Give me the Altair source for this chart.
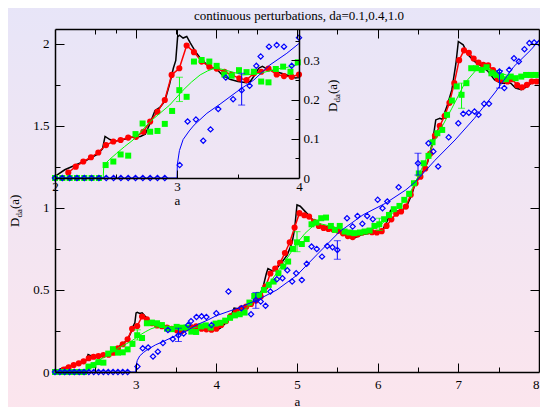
import altair as alt
import pandas as pd

SERIF = "Liberation Serif"
TITLE = "continuous perturbations, da=0.1,0.4,1.0"
X_TITLE = "a"
GREEN = "#00ff00"
BLUE = "#0000ff"

# ---------------- data ----------------
BLACK_A = [2.00, 2.08, 2.16, 2.25, 2.35, 2.39, 2.41, 2.45, 2.49, 2.56, 2.63, 2.70, 2.74, 2.78, 2.82,
           2.86, 2.90, 2.94, 2.97, 2.99, 3.005, 3.02, 3.05, 3.08, 3.11, 3.15, 3.20, 3.26, 3.33, 3.38,
           3.44, 3.50, 3.57, 3.60, 3.64, 3.67, 3.70, 3.75, 3.80, 3.89, 3.97, 4.00, 4.05, 4.12, 4.18,
           4.22, 4.27, 4.33, 4.40, 4.47, 4.53, 4.58, 4.62, 4.64, 4.70, 4.75, 4.82, 4.88, 4.94, 4.97,
           5.00, 5.04, 5.12, 5.20, 5.29, 5.36, 5.43, 5.50, 5.57, 5.63, 5.69, 5.75, 5.80, 5.90, 5.98,
           6.06, 6.12, 6.16, 6.22, 6.30, 6.36, 6.43, 6.47, 6.55, 6.62, 6.68, 6.72, 6.77, 6.80, 6.86,
           6.92, 6.97, 7.00, 7.06, 7.12, 7.20, 7.29, 7.37, 7.45, 7.53, 7.65, 7.71, 7.78, 7.86, 7.94, 8.00]
BLACK_D = [0.004, 0.021, 0.032, 0.044, 0.061, 0.075, 0.106, 0.098, 0.094, 0.098, 0.104, 0.106, 0.112, 0.140, 0.172,
           0.180, 0.196, 0.240, 0.280, 0.300, 0.360, 0.364, 0.357, 0.361, 0.344, 0.323, 0.302, 0.285, 0.276, 0.260,
           0.251, 0.246, 0.243, 0.246, 0.264, 0.280, 0.285, 0.276, 0.272, 0.264, 0.255, 0.256, 0.268, 0.300, 0.340,
           0.390, 0.385, 0.388, 0.405, 0.425, 0.460, 0.520, 0.600, 0.630, 0.615, 0.632, 0.673, 0.714, 0.790, 0.870,
           1.018, 1.010, 0.968, 0.925, 0.886, 0.886, 0.886, 0.865, 0.846, 0.825, 0.812, 0.825, 0.836, 0.845, 0.846,
           0.866, 0.920, 0.985, 0.978, 0.985, 1.010, 1.090, 1.160, 1.210, 1.280, 1.400, 1.536, 1.546, 1.540, 1.620,
           1.720, 1.880, 2.014, 1.994, 1.933, 1.892, 1.862, 1.831, 1.780, 1.760, 1.760, 1.730, 1.720, 1.740, 1.780, 1.780]

RED_A = [2.109, 2.170, 2.232, 2.295, 2.355, 2.418, 2.478, 2.538, 2.600, 2.664, 2.724, 2.780, 2.840, 2.900,
         2.956, 3.019, 3.079, 3.139, 3.202, 3.265, 3.325, 3.388, 3.448, 3.511, 3.570, 3.630, 3.690, 3.750,
         3.817, 3.877, 3.940, 4.000, 4.06, 4.12, 4.18, 4.245, 4.31, 4.37, 4.43, 4.49, 4.55, 4.61, 4.67, 4.73,
         4.79, 4.85, 4.91, 4.97, 5.03, 5.09, 5.15, 5.21, 5.27, 5.33, 5.39, 5.45, 5.51, 5.57, 5.63, 5.69, 5.75,
         5.81, 5.87, 5.93, 5.99, 6.05, 6.11, 6.17, 6.23, 6.29, 6.35, 6.41, 6.47, 6.53, 6.59, 6.65, 6.71, 6.77,
         6.83, 6.89, 6.95, 7.01, 7.07, 7.13, 7.19, 7.25, 7.31, 7.37, 7.43, 7.49, 7.55, 7.61, 7.67, 7.73, 7.79,
         7.85, 7.91, 7.97]
RED_D = [0.014, 0.029, 0.042, 0.053, 0.065, 0.084, 0.093, 0.097, 0.103, 0.105, 0.118, 0.144, 0.169, 0.199,
         0.263, 0.280, 0.338, 0.321, 0.297, 0.284, 0.279, 0.271, 0.263, 0.254, 0.250, 0.267, 0.271, 0.279,
         0.264, 0.260, 0.258, 0.264, 0.287, 0.310, 0.340, 0.368, 0.388, 0.398, 0.415, 0.435, 0.460, 0.520, 0.600, 0.630,
         0.665, 0.725, 0.790, 0.880, 0.968, 0.955, 0.947, 0.915, 0.890, 0.878, 0.872, 0.868, 0.860, 0.845, 0.828, 0.822, 0.838,
         0.850, 0.856, 0.852, 0.850, 0.858, 0.890, 0.930, 0.965, 0.978, 1.008, 1.080, 1.150, 1.190, 1.240, 1.330, 1.440, 1.500,
         1.560, 1.640, 1.760, 1.900, 1.960, 1.945, 1.910, 1.885, 1.872, 1.868, 1.840, 1.785, 1.778, 1.770, 1.784, 1.748, 1.735,
         1.750, 1.770, 1.770]

GREEN_A = [2.00, 2.06, 2.12, 2.18, 2.24, 2.30, 2.36, 2.415, 2.478, 2.538, 2.600, 2.660, 2.718, 2.780, 2.840,
           2.900, 2.960, 3.019, 3.079, 3.139, 3.202, 3.265, 3.325, 3.388, 3.448, 3.508, 3.570, 3.630, 3.690,
           3.750, 3.810, 3.870, 3.930, 3.990, 4.05, 4.11, 4.17, 4.23, 4.29, 4.35, 4.41, 4.47, 4.53, 4.59, 4.65,
           4.71, 4.77, 4.83, 4.89, 4.95, 5.00, 5.06, 5.12, 5.18, 5.24, 5.30, 5.36, 5.42, 5.47, 5.53, 5.59, 5.65,
           5.71, 5.78, 5.84, 5.90, 5.96, 6.02, 6.08, 6.14, 6.20, 6.27, 6.33, 6.39, 6.45, 6.51, 6.57, 6.63, 6.68,
           6.74, 6.80, 6.86, 6.92, 6.98, 7.04, 7.10, 7.16, 7.22, 7.29, 7.35, 7.41, 7.47, 7.53, 7.59, 7.65, 7.71,
           7.78, 7.84, 7.90, 7.96]
GREEN_D = [0.0, 0.0, 0.0, 0.0, 0.0, 0.0, 0.0, 0.033, 0.042, 0.060, 0.057, 0.112, 0.139, 0.118, 0.120,
           0.138, 0.171, 0.224, 0.207, 0.297, 0.301, 0.297, 0.286, 0.264, 0.261, 0.275, 0.270, 0.271, 0.246,
           0.244, 0.278, 0.284, 0.271, 0.295, 0.300, 0.313, 0.330, 0.345, 0.352, 0.362, 0.423, 0.463, 0.470, 0.500, 0.531,
           0.551, 0.602, 0.642, 0.673, 0.750, 0.790, 0.780, 0.810, 0.900, 0.911, 0.937, 0.941, 0.890, 0.866, 0.890, 0.856, 0.850,
           0.846, 0.850, 0.856, 0.862, 0.890, 0.900, 0.931, 0.957, 0.992, 1.012, 1.049, 1.086, 1.150, 1.210, 1.272, 1.317, 1.400,
           1.455, 1.475, 1.567, 1.654, 1.740, 1.689, 1.760, 1.851, 1.851, 1.841, 1.857, 1.820, 1.810, 1.800, 1.784, 1.800, 1.790,
           1.800, 1.810, 1.810, 1.810]

GREEN_LINE_A = [2.00, 2.395, 2.40, 2.45, 2.505, 2.57, 2.64, 2.71, 2.78, 2.86, 2.94, 3.05, 3.12, 3.19, 3.25,
                3.30, 3.36, 3.41, 3.54, 3.60, 3.68, 3.82, 3.90, 4.00, 4.10, 4.20, 4.30, 4.40, 4.50, 4.60,
                4.70, 4.80, 4.90, 5.00, 5.10, 5.20, 5.27, 5.41, 5.57, 5.73, 5.90, 6.02, 6.14, 6.31, 6.41,
                6.50, 6.71, 6.92, 7.08, 7.24, 7.41, 7.65, 8.00]
GREEN_LINE_D = [0.0, 0.0, 0.033, 0.048, 0.063, 0.080, 0.097, 0.120, 0.144, 0.165, 0.186, 0.224, 0.245, 0.263, 0.273,
                0.279, 0.278, 0.274, 0.263, 0.264, 0.267, 0.278, 0.282, 0.290, 0.305, 0.330, 0.360, 0.400, 0.450, 0.510,
                0.570, 0.640, 0.710, 0.785, 0.845, 0.890, 0.905, 0.890, 0.866, 0.856, 0.866, 0.886, 0.947, 1.030, 1.100,
                1.190, 1.414, 1.607, 1.760, 1.851, 1.841, 1.800, 1.810]

BLUE_A = [2.00, 2.06, 2.12, 2.18, 2.24, 2.30, 2.36, 2.42, 2.48, 2.54, 2.60, 2.66, 2.72, 2.78, 2.84, 2.90,
          3.022, 3.087, 3.155, 3.215, 3.275, 3.338, 3.400, 3.460, 3.530, 3.595, 3.650, 3.686, 3.754, 3.817,
          3.877, 3.940, 4.000, 4.15, 4.31, 4.43, 4.49, 4.55, 4.61, 4.67, 4.75, 4.82, 4.88, 4.94, 4.99, 5.06,
          5.12, 5.18, 5.245, 5.31, 5.375, 5.44, 5.50, 5.62, 5.69, 5.75, 5.81, 5.87, 5.94, 6.00, 6.06, 6.12,
          6.26, 6.50, 6.63, 6.69, 6.75, 6.88, 7.00, 7.06, 7.13, 7.20, 7.25, 7.32, 7.38, 7.51, 7.57, 7.63,
          7.69, 7.75, 7.82, 7.88, 7.94, 8.00]
BLUE_D = [0.0] * 16 + [
          0.033, 0.144, 0.149, 0.095, 0.124, 0.176, 0.256, 0.201, 0.224, 0.235, 0.286, 0.310, 0.335, 0.339,
          0.335, 0.286, 0.358, 0.490, 0.388, 0.352, 0.439, 0.429, 0.403, 0.490, 0.565, 0.571, 0.620, 0.551, 0.602, 0.561,
          0.659, 0.764, 0.750, 0.703, 0.768, 0.760, 0.744, 0.937, 0.886, 0.951, 0.903, 0.951, 0.931, 1.049, 0.998, 1.039,
          1.126, 1.272, 1.394, 1.343, 1.252, 1.430, 1.516, 1.573, 1.580, 1.587, 1.567, 1.634, 1.634, 1.831, 1.730, 1.841,
          1.912, 1.892, 1.967, 2.004, 2.008, 2.004]

BLUE_LINE_A = [2.00, 3.00, 3.003, 3.02, 3.05, 3.10, 3.14, 3.245, 3.36, 3.49, 3.63, 3.76, 3.90, 4.00, 4.26,
               4.51, 4.75, 5.00, 5.245, 5.53, 5.82, 6.10, 6.35, 6.47, 6.71, 6.96, 7.20, 7.45, 7.69, 7.90, 8.00]
BLUE_LINE_D = [0.0, 0.0, 0.035, 0.070, 0.098, 0.120, 0.135, 0.165, 0.190, 0.220, 0.250, 0.288, 0.318, 0.343, 0.388,
               0.439, 0.500, 0.590, 0.714, 0.856, 0.958, 1.029, 1.110, 1.160, 1.290, 1.414, 1.546, 1.700, 1.862, 1.963, 2.020]

GERR_A = [3.02, 5.00, 6.02, 7.04]
GERR_LO = [0.195, 0.733, 0.862, 1.607]
GERR_HI = [0.257, 0.855, 0.937, 1.760]
BERR_A = [3.53, 4.49, 5.50, 6.50, 7.51]
BERR_LO = [0.186, 0.388, 0.687, 1.200, 1.730]
BERR_HI = [0.267, 0.484, 0.800, 1.333, 1.837]

X_LABELS = [3, 4, 5, 6, 7, 8]
X_MAJOR = [3, 4, 5, 6, 7]
X_MINOR = [2.5, 3.5, 4.5, 5.5, 6.5, 7.5]
Y_LABELS = [0, 0.5, 1, 1.5, 2]
Y_MAJOR = [0.5, 1, 1.5, 2]
Y_MINOR = [0.25, 0.75, 1.25, 1.75]
IX_LABELS = [2, 3, 4]
IX_MAJOR = [3]
IX_MINOR = [2.5, 3.5]
IY_LABELS = [0, 0.1, 0.2, 0.3]
IY_MAJOR = [0.1, 0.2, 0.3]
IY_MINOR = [0.05, 0.15, 0.25, 0.35]

# ---------------- layout ----------------
W, H = 484, 343
IW, IH = 244, 149


def frame(a, d):
    return pd.DataFrame({"a": a, "D": d, "i": list(range(len(a)))})


black = frame(BLACK_A, BLACK_D)
red = frame(RED_A, RED_D)
gpts = frame(GREEN_A, GREEN_D)
gline = frame(GREEN_LINE_A, GREEN_LINE_D)
bpts = frame(BLUE_A, BLUE_D)
bline = frame(BLUE_LINE_A, BLUE_LINE_D)
gerr = pd.DataFrame({"a": GERR_A, "lo": GERR_LO, "hi": GERR_HI})
berr = pd.DataFrame({"a": BERR_A, "lo": BERR_LO, "hi": BERR_HI})
DUMMY = pd.DataFrame({"a": [2.0], "D": [0.0]})

XS = alt.Scale(domain=[2, 8], nice=False, zero=False)
YS = alt.Scale(domain=[0, 2.09], nice=False, zero=False)
IXS = alt.Scale(domain=[2, 4], range=[0, IW], nice=False, zero=False)
IYS = alt.Scale(domain=[0, 0.38], range=[IH, 0], nice=False, zero=False)


def data_layers(xs, ys, amax=None):
    def X():
        return alt.X("a:Q", scale=xs, axis=None)

    def Y(f="D"):
        return alt.Y(f + ":Q", scale=ys, axis=None)

    def base(df):
        c = alt.Chart(df)
        if amax is not None:
            c = c.transform_filter(alt.datum.a <= amax)
        return c

    return [
        base(black).mark_line(color="black", strokeWidth=1.5).encode(x=X(), y=Y(), order=alt.Order("i:Q")),
        base(red).mark_line(color="red", strokeWidth=1.5).encode(x=X(), y=Y(), order=alt.Order("i:Q")),
        base(red).mark_circle(color="red", size=38, opacity=1).encode(x=X(), y=Y()),
        base(gline).mark_line(color=GREEN, strokeWidth=1).encode(x=X(), y=Y(), order=alt.Order("i:Q")),
        base(gpts).mark_square(color=GREEN, size=36, opacity=1).encode(x=X(), y=Y()),
        base(bline).mark_line(color=BLUE, strokeWidth=1).encode(x=X(), y=Y(), order=alt.Order("i:Q")),
        base(bpts).mark_point(shape="diamond", filled=False, color=BLUE, size=28, strokeWidth=1.2,
                              opacity=1).encode(x=X(), y=Y()),
        base(gerr).mark_errorbar(ticks={"size": 7}, color=GREEN).encode(
            x=X(), y=alt.Y("lo:Q", scale=ys, axis=None), y2=alt.Y2("hi:Q")),
        base(berr).mark_errorbar(ticks={"size": 7}, color=BLUE).encode(
            x=X(), y=alt.Y("lo:Q", scale=ys, axis=None), y2=alt.Y2("hi:Q")),
    ]


def axis_layer(xs, ys, xaxis=None, yaxis=None):
    return alt.Chart(DUMMY).mark_point(opacity=0, size=1).encode(
        x=alt.X("a:Q", scale=xs, axis=xaxis), y=alt.Y("D:Q", scale=ys, axis=yaxis))


def tick_axis(orient, values, size, offset, domain=False):
    return alt.Axis(orient=orient, values=values, offset=offset, labels=False, domain=domain,
                    ticks=True, tickSize=size, tickWidth=1, grid=False, title=None, zindex=1)


def label_axis(orient, values, offset=0, title=None, lpad=6, tpad=12, flush=False):
    return alt.Axis(orient=orient, values=values, offset=offset, labels=True, ticks=False, domain=True,
                    grid=False, title=title, labelPadding=lpad, titlePadding=tpad, labelFlush=flush,
                    labelOverlap=False, format="~g", zindex=1)


def ytitle(x, y):
    common = dict(angle=270, align="left", baseline="middle", font=SERIF, color="black")
    return [
        alt.Chart(DUMMY).mark_text(text="D", fontSize=13, **common).encode(x=alt.value(x), y=alt.value(y)),
        alt.Chart(DUMMY).mark_text(text="da", fontSize=9, dx=9.5, dy=4, **common).encode(
            x=alt.value(x), y=alt.value(y)),
        alt.Chart(DUMMY).mark_text(text="(a)", fontSize=13, dx=18, **common).encode(
            x=alt.value(x), y=alt.value(y)),
    ]


bg = alt.Chart(DUMMY).mark_rect(
    color=alt.LinearGradient(gradient="linear",
                             stops=[alt.GradientStop(offset=0, color="#e7e5f8"),
                                    alt.GradientStop(offset=1, color="#fce5ed")],
                             x1=0, x2=0, y1=0, y2=1)
).encode(x=alt.value(-60), x2=alt.value(W + 10), y=alt.value(-30), y2=alt.value(H + 45))

title_text = alt.Chart(DUMMY).mark_text(
    text=TITLE, font=SERIF, fontSize=13, color="black", align="center", baseline="middle"
).encode(x=alt.value(W / 2 + 2), y=alt.value(-13.5))

main_layers = [bg, title_text] + data_layers(XS, YS) + [
    axis_layer(XS, YS, label_axis("bottom", X_LABELS, title=X_TITLE, lpad=6, tpad=4, flush=True),
               label_axis("left", Y_LABELS, lpad=6)),
    axis_layer(XS, YS, tick_axis("top", X_MAJOR, 9, -H), tick_axis("right", Y_MAJOR, 9, -W)),
    axis_layer(XS, YS, tick_axis("top", X_MINOR, 5, -H), tick_axis("right", Y_MINOR, 5, -W)),
    axis_layer(XS, YS, tick_axis("bottom", X_MAJOR, 9, -H, True), tick_axis("left", Y_MAJOR, 9, -W, True)),
    axis_layer(XS, YS, tick_axis("bottom", X_MINOR, 5, -H), tick_axis("left", Y_MINOR, 5, -W)),
] + ytitle(-40, 198)

inset_layers = data_layers(IXS, IYS, amax=4.0001) + [
    axis_layer(IXS, IYS, label_axis("bottom", IX_LABELS, offset=-(H - IH), title=X_TITLE, lpad=2, tpad=1),
               label_axis("right", IY_LABELS, offset=-(W - IW), lpad=4)),
    axis_layer(IXS, IYS, tick_axis("top", IX_MAJOR, 8, -IH), tick_axis("left", IY_MAJOR, 8, -IW)),
    axis_layer(IXS, IYS, tick_axis("top", IX_MINOR, 4, -IH), tick_axis("left", IY_MINOR, 4, -IW)),
    axis_layer(IXS, IYS, tick_axis("bottom", IX_MAJOR, 8, -H)),
    axis_layer(IXS, IYS, tick_axis("bottom", IX_MINOR, 4, -H)),
] + ytitle(278, 83)

main = alt.layer(*main_layers).resolve_axis(x="independent", y="independent")
inset = alt.layer(*inset_layers).resolve_axis(x="independent", y="independent")

chart = alt.layer(main, inset).resolve_scale(x="independent", y="independent").resolve_axis(
    x="independent", y="independent"
).properties(
    width=W, height=H,
    padding={"left": 47, "top": 21, "right": 1, "bottom": 35},
    autosize=alt.AutoSizeParams(type="none"),
).configure_axis(
    labelFont=SERIF, labelFontSize=13, labelColor="black",
    titleFont=SERIF, titleFontSize=13, titleFontWeight="normal", titleColor="black",
    domainColor="black", domainWidth=1.5, tickColor="black", tickWidth=1,
).configure_view(stroke="transparent")

chart.save("out.html", embed_options={"renderer": "svg", "actions": False})
